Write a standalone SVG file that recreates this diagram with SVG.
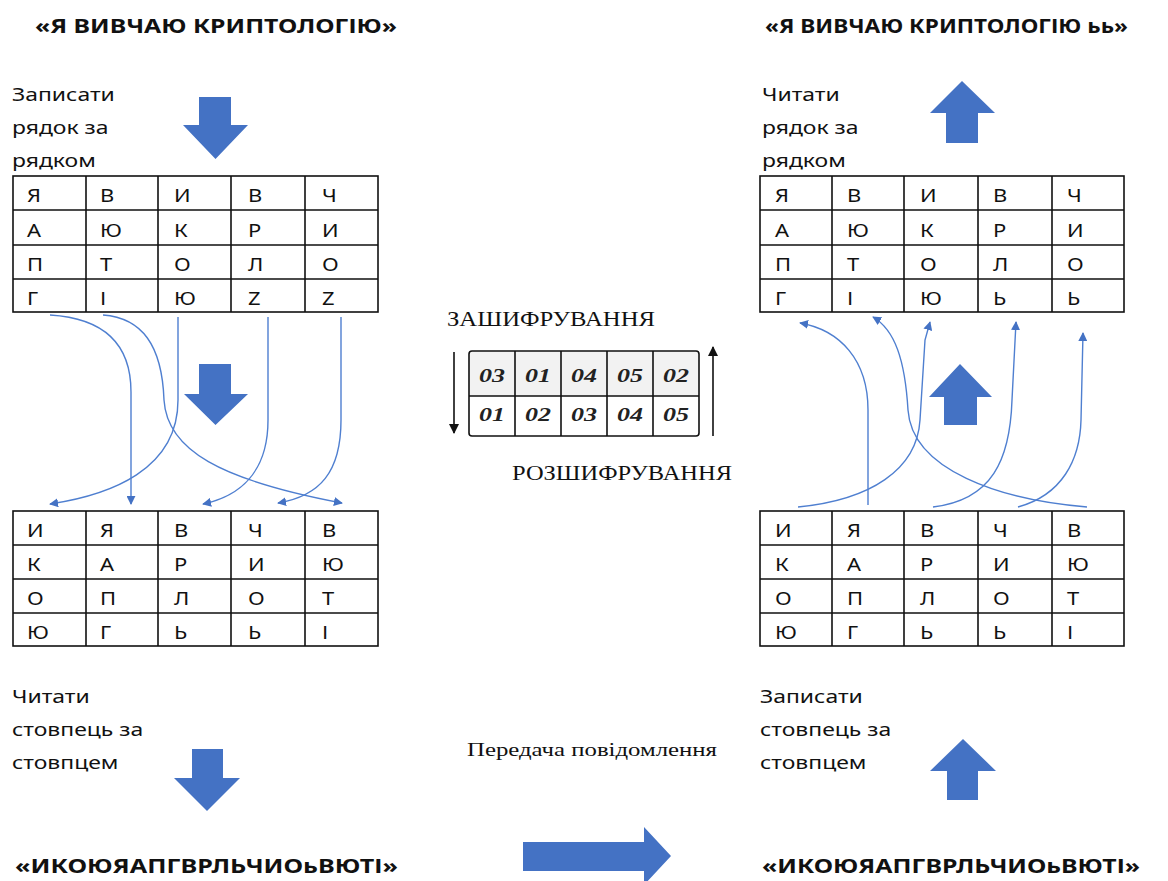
<svg xmlns="http://www.w3.org/2000/svg" width="1168" height="881" viewBox="0 0 1168 881">
  <defs>
    <style>
      .hdr { font-family: "Noto Sans", "Open Sans", sans-serif; font-weight: bold; font-size: 20px; fill: #111; }
      .lbl { font-family: "Noto Sans", "Open Sans", sans-serif; font-size: 18.5px; fill: #111; }
      .cell { font-family: "Noto Sans", "Open Sans", sans-serif; font-size: 18px; fill: #111; }
      .ser { font-family: "Liberation Serif", "Times New Roman", serif; fill: #111; }
      .key { font-family: "Liberation Serif", "Times New Roman", serif; font-weight: bold; font-style: italic; font-size: 19px; fill: #222; }
      .grid { fill: none; stroke: #111; stroke-width: 1.6; }
      .blk { fill: #4472C4; }
      .link { fill: none; stroke: #4f7fd0; stroke-width: 1.4; }
      .thin { fill: none; stroke: #111; stroke-width: 1.6; }
    </style>
    <marker id="ah" viewBox="0 0 10 10" refX="9" refY="5" markerWidth="9" markerHeight="9" markerUnits="userSpaceOnUse" orient="auto">
      <path d="M0,0 L10,5 L0,10 Z" fill="#4472C4"/>
    </marker>
    <marker id="bk" viewBox="0 0 10 10" refX="9" refY="5" markerWidth="12" markerHeight="10" markerUnits="userSpaceOnUse" orient="auto">
      <path d="M0,0 L10,5 L0,10 Z" fill="#111"/>
    </marker>
  </defs>

  <rect width="1168" height="881" fill="#fff"/>

  <!-- headers -->
  <text class="hdr" x="35" y="33" textLength="362" lengthAdjust="spacingAndGlyphs">«Я ВИВЧАЮ КРИПТОЛОГІЮ»</text>
  <text class="hdr" x="765" y="33" textLength="363" lengthAdjust="spacingAndGlyphs">«Я ВИВЧАЮ КРИПТОЛОГІЮ ьь»</text>

  <!-- step captions (glyphs widened by 1.24) -->
  <g id="cap-write-rows" class="lbl" transform="translate(12 0) scale(1.24 1)">
    <text x="0" y="101">Записати</text>
    <text x="0" y="134">рядок за</text>
    <text x="0" y="167">рядком</text>
  </g>
  <g id="cap-read-rows" class="lbl" transform="translate(762 0) scale(1.24 1)">
    <text x="0" y="101">Читати</text>
    <text x="0" y="134">рядок за</text>
    <text x="0" y="167">рядком</text>
  </g>
  <g id="cap-read-cols" class="lbl" transform="translate(12 0) scale(1.24 1)">
    <text x="0" y="703">Читати</text>
    <text x="0" y="736">стовпець за</text>
    <text x="0" y="769">стовпцем</text>
  </g>
  <g id="cap-write-cols" class="lbl" transform="translate(760 0) scale(1.24 1)">
    <text x="0" y="703">Записати</text>
    <text x="0" y="736">стовпець за</text>
    <text x="0" y="769">стовпцем</text>
  </g>

  <!-- block arrows -->
  <g id="big-arrows">
    <path class="blk" d="M199,97 H231 V125 H248 L215.5,159 L183,125 H199 Z"/>
    <path class="blk" d="M199,364 H231 V394 H248 L215.5,425 L184,394 H199 Z"/>
    <path class="blk" d="M192,749 H223 V778 H240 L207,811 L174,778 H192 Z"/>
    <path class="blk" d="M946,143 H978 V113 H995 L962,81 L930,113 H946 Z"/>
    <path class="blk" d="M944,425 H977 V397 H992 L960,364 L929,397 H944 Z"/>
    <path class="blk" d="M947,800 H978 V771 H996 L963,739 L930,771 H947 Z"/>
    <path class="blk" d="M523,842 H644 V827 L671,856 L644,885 V871 H523 Z"/>
  </g>

  <!-- plaintext grid; letters sit in a 1.22x widened frame (column starts 27,100,174,248,322) -->
  <g id="grid-plain">
    <rect class="grid" x="13" y="176" width="365" height="136"/>
    <path class="grid" d="M86,176 V312 M158,176 V312 M231,176 V312 M305,176 V312 M13,210 H378 M13,245 H378 M13,279 H378"/>
    <g class="cell" transform="scale(1.22 1)">
      <text x="22.1" y="202">Я</text><text x="82" y="202">В</text><text x="142.6" y="202">И</text><text x="203.3" y="202">В</text><text x="263.9" y="202">Ч</text>
      <text x="22.1" y="237">А</text><text x="82" y="237">Ю</text><text x="142.6" y="237">К</text><text x="203.3" y="237">Р</text><text x="263.9" y="237">И</text>
      <text x="22.1" y="271">П</text><text x="82" y="271">Т</text><text x="142.6" y="271">О</text><text x="203.3" y="271">Л</text><text x="263.9" y="271">О</text>
      <text x="22.1" y="305">Г</text><text x="82" y="305">І</text><text x="142.6" y="305">Ю</text><text x="203.3" y="305">Z</text><text x="263.9" y="305">Z</text>
    </g>
  </g>

  <!-- permuted grid (sender) -->
  <g id="grid-cipher">
    <rect class="grid" x="13" y="511" width="365" height="135"/>
    <path class="grid" d="M86,511 V646 M158,511 V646 M231,511 V646 M305,511 V646 M13,545 H378 M13,579 H378 M13,613 H378"/>
    <g class="cell" transform="scale(1.22 1)">
      <text x="22.1" y="537">И</text><text x="82" y="537">Я</text><text x="142.6" y="537">В</text><text x="203.3" y="537">Ч</text><text x="263.9" y="537">В</text>
      <text x="22.1" y="571">К</text><text x="82" y="571">А</text><text x="142.6" y="571">Р</text><text x="203.3" y="571">И</text><text x="263.9" y="571">Ю</text>
      <text x="22.1" y="605">О</text><text x="82" y="605">П</text><text x="142.6" y="605">Л</text><text x="203.3" y="605">О</text><text x="263.9" y="605">Т</text>
      <text x="22.1" y="639">Ю</text><text x="82" y="639">Г</text><text x="142.6" y="639">Ь</text><text x="203.3" y="639">Ь</text><text x="263.9" y="639">І</text>
    </g>
  </g>

  <!-- restored grid (receiver); column starts 775,847,920,993,1067 -->
  <g id="grid-restored">
    <rect class="grid" x="760" y="176" width="364" height="136"/>
    <path class="grid" d="M832,176 V312 M904,176 V312 M978,176 V312 M1052,176 V312 M760,210 H1124 M760,245 H1124 M760,279 H1124"/>
    <g class="cell" transform="scale(1.22 1)">
      <text x="635.2" y="202">Я</text><text x="694.3" y="202">В</text><text x="754.1" y="202">И</text><text x="813.9" y="202">В</text><text x="874.6" y="202">Ч</text>
      <text x="635.2" y="237">А</text><text x="694.3" y="237">Ю</text><text x="754.1" y="237">К</text><text x="813.9" y="237">Р</text><text x="874.6" y="237">И</text>
      <text x="635.2" y="271">П</text><text x="694.3" y="271">Т</text><text x="754.1" y="271">О</text><text x="813.9" y="271">Л</text><text x="874.6" y="271">О</text>
      <text x="635.2" y="305">Г</text><text x="694.3" y="305">І</text><text x="754.1" y="305">Ю</text><text x="813.9" y="305">Ь</text><text x="874.6" y="305">Ь</text>
    </g>
  </g>

  <!-- received grid -->
  <g id="grid-received">
    <rect class="grid" x="760" y="511" width="364" height="135"/>
    <path class="grid" d="M832,511 V646 M904,511 V646 M978,511 V646 M1052,511 V646 M760,545 H1124 M760,579 H1124 M760,613 H1124"/>
    <g class="cell" transform="scale(1.22 1)">
      <text x="635.2" y="537">И</text><text x="694.3" y="537">Я</text><text x="754.1" y="537">В</text><text x="813.9" y="537">Ч</text><text x="874.6" y="537">В</text>
      <text x="635.2" y="571">К</text><text x="694.3" y="571">А</text><text x="754.1" y="571">Р</text><text x="813.9" y="571">И</text><text x="874.6" y="571">Ю</text>
      <text x="635.2" y="605">О</text><text x="694.3" y="605">П</text><text x="754.1" y="605">Л</text><text x="813.9" y="605">О</text><text x="874.6" y="605">Т</text>
      <text x="635.2" y="639">Ю</text><text x="694.3" y="639">Г</text><text x="754.1" y="639">Ь</text><text x="813.9" y="639">Ь</text><text x="874.6" y="639">І</text>
    </g>
  </g>

  <!-- key table -->
  <g id="key">
    <text class="ser" x="447" y="326" font-size="22" textLength="208" lengthAdjust="spacingAndGlyphs">ЗАШИФРУВАННЯ</text>
    <rect x="469" y="351" width="230" height="45" fill="#f2f2f2"/>
    <rect class="grid" x="469" y="351" width="230" height="85" rx="3"/>
    <path class="grid" d="M515,351 V436 M561,351 V436 M607,351 V436 M653,351 V436 M469,396 H699"/>
    <g class="key">
      <text x="479" y="382" textLength="26" lengthAdjust="spacingAndGlyphs">03</text>
      <text x="525" y="382" textLength="26" lengthAdjust="spacingAndGlyphs">01</text>
      <text x="571" y="382" textLength="26" lengthAdjust="spacingAndGlyphs">04</text>
      <text x="617" y="382" textLength="26" lengthAdjust="spacingAndGlyphs">05</text>
      <text x="663" y="382" textLength="26" lengthAdjust="spacingAndGlyphs">02</text>
      <text x="479" y="421" textLength="26" lengthAdjust="spacingAndGlyphs">01</text>
      <text x="525" y="421" textLength="26" lengthAdjust="spacingAndGlyphs">02</text>
      <text x="571" y="421" textLength="26" lengthAdjust="spacingAndGlyphs">03</text>
      <text x="617" y="421" textLength="26" lengthAdjust="spacingAndGlyphs">04</text>
      <text x="663" y="421" textLength="26" lengthAdjust="spacingAndGlyphs">05</text>
    </g>
    <path class="thin" d="M454,352 V433" marker-end="url(#bk)"/>
    <path class="thin" d="M713,436 V347" marker-end="url(#bk)"/>
    <text class="ser" x="512" y="480" font-size="22" textLength="220" lengthAdjust="spacingAndGlyphs">РОЗШИФРУВАННЯ</text>
  </g>

  <text class="ser" x="467" y="756" font-size="19" textLength="250" lengthAdjust="spacingAndGlyphs">Передача повідомлення</text>

  <!-- resulting strings -->
  <text class="hdr" x="15" y="873" textLength="383" lengthAdjust="spacingAndGlyphs">«ИКОЮЯАПГВРЛЬЧИОьВЮТІ»</text>
  <text class="hdr" x="762" y="873" textLength="378" lengthAdjust="spacingAndGlyphs">«ИКОЮЯАПГВРЛЬЧИОьВЮТІ»</text>

  <!-- column transfers -->
  <g id="connectors">
    <path class="link" marker-end="url(#ah)" d="M50,315 C100,318 131,340 131,392 L131,504"/>
    <path class="link" marker-end="url(#ah)" d="M103,315 C142,318 162,345 164,400 C167,450 220,480 342,503"/>
    <path class="link" marker-end="url(#ah)" d="M178,317 L178,400 C178,470 110,495 50,504"/>
    <path class="link" marker-end="url(#ah)" d="M268,317 L268,420 C268,472 240,496 203,504"/>
    <path class="link" marker-end="url(#ah)" d="M341,317 L341,420 C341,472 320,496 278,503"/>

    <path class="link" marker-end="url(#ah)" d="M868,505 L868,410 C868,360 840,330 800,323"/>
    <path class="link" marker-end="url(#ah)" d="M798,507 C870,500 917,470 920,420 L925,340 L930,322"/>
    <path class="link" marker-end="url(#ah)" d="M1087,507 C1000,500 912,470 908,410 C905,360 895,330 873,317"/>
    <path class="link" marker-end="url(#ah)" d="M933,507 C992,500 1010,460 1012,400 L1016,322"/>
    <path class="link" marker-end="url(#ah)" d="M1018,507 C1062,495 1080,460 1081,420 L1083,333"/>
  </g>
</svg>
